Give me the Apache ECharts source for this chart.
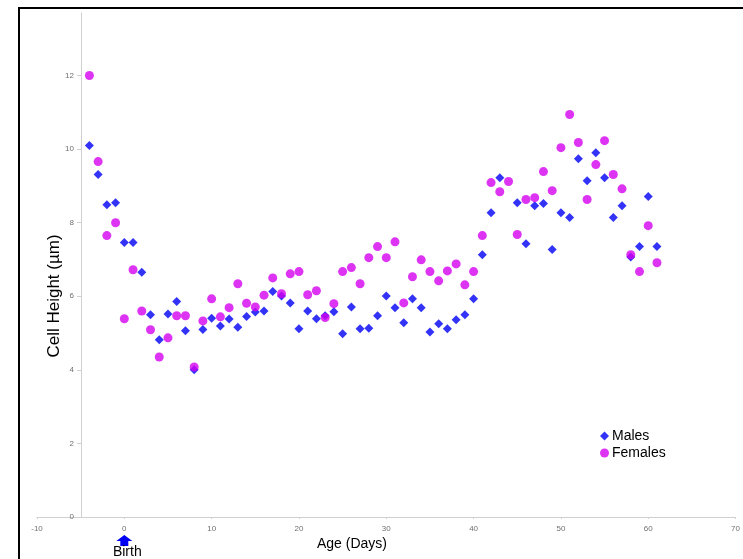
<!DOCTYPE html>
<html>
<head>
<meta charset="utf-8">
<script src="https://cdn.jsdelivr.net/npm/echarts@6/dist/echarts.min.js"></script>
<style>
html,body{margin:0;padding:0;background:#fff;}
#c{width:743px;height:559px;}
</style>
</head>
<body>
<div id="c"></div>
<script>
// Data
const maleDays   = [-4,-3,-2,-1,0,1,2,3,4,5,6,7,8,9,10,11,12,13,14,15,16,17,18,19,20,21,22,23,24,25,26,27,28,29,30,31,32,33,34,35,36,37,38,39,40,41,42,43,45,46,47,48,49,50,51,52,53,54,55,56,57,58,59,60,61];
const maleValues = [10.1,9.31,8.49,8.54,7.46,7.46,6.65,5.5,4.82,5.52,5.86,5.06,4.0,5.1,5.4,5.19,5.38,5.16,5.45,5.57,5.6,6.13,6.01,5.82,5.12,5.6,5.39,5.47,5.58,4.98,5.71,5.12,5.13,5.47,6.01,5.69,5.28,5.93,5.69,5.03,5.25,5.12,5.36,5.5,5.93,7.13,8.27,9.22,8.54,7.43,8.46,8.52,7.27,8.27,8.14,9.74,9.14,9.9,9.22,8.14,8.46,7.07,7.35,8.71,7.35];
const femaleDays   = [-4,-3,-2,-1,0,1,2,3,4,5,6,7,8,9,10,11,12,13,14,15,16,17,18,19,20,21,22,23,24,25,26,27,28,29,30,31,32,33,34,35,36,37,38,39,40,41,42,43,44,45,46,47,48,49,50,51,52,53,54,55,56,57,58,59,60,61];
const femaleValues = [12.0,9.66,7.65,8.0,5.39,6.72,5.6,5.09,4.35,4.87,5.47,5.47,4.08,5.33,5.93,5.44,5.69,6.34,5.81,5.71,6.03,6.5,6.07,6.61,6.67,6.04,6.15,5.42,5.8,6.67,6.78,6.34,7.05,7.35,7.05,7.48,5.82,6.53,6.99,6.67,6.42,6.69,6.88,6.31,6.67,7.65,9.09,8.84,9.12,7.68,8.63,8.68,9.39,8.87,10.04,10.94,10.18,8.63,9.58,10.23,9.31,8.92,7.13,6.67,7.92,6.91];
const yTickValues = [0,2,4,6,8,10,12];
const seriesNames = ['Males','Females'];
const xTitle = 'Age (Days)';
const yTitle = 'Cell Height (µm)';
const birthLabel = 'Birth';

const zip = (a,b) => a.map((v,i) => [v, b[i]]);
const FONT = "'Liberation Sans', Arial, sans-serif";

const chart = echarts.init(document.getElementById('c'), null, {renderer:'canvas'});
const option = {
  animation: false,
  backgroundColor: '#fff',
  grid: {left: 37, right: 3, top: 13, bottom: 42, containLabel: false},
  legend: {
    orient: 'vertical', left: 595, top: 424, itemGap: 3,
    itemWidth: 9, itemHeight: 9,
    textStyle: {fontSize: 14, color: '#000', fontFamily: FONT, padding: [0,0,0,-2]},
    data: [{name: seriesNames[0], icon: 'diamond'}, {name: seriesNames[1], icon: 'circle'}]
  },
  xAxis: {
    type: 'value', min: -10, max: 70, interval: 10,
    axisLine: {show: true, onZero: false, lineStyle: {color: '#d0d0d0', width: 1}},
    axisTick: {show: true, length: 2, lineStyle: {color: '#d0d0d0'}},
    axisLabel: {fontSize: 8, color: '#707070', fontFamily: FONT, margin: 8},
    splitLine: {show: false}
  },
  yAxis: {
    type: 'value', min: 0, max: 13.7, interval: 2, offset: -44,
    axisLine: {show: true, onZero: false, lineStyle: {color: '#d0d0d0', width: 1}},
    axisTick: {show: true, length: 4, customValues: yTickValues, lineStyle: {color: '#d0d0d0'}},
    axisLabel: {fontSize: 8, color: '#707070', fontFamily: FONT, margin: 7, customValues: yTickValues},
    splitLine: {show: false}
  },
  series: [
    {name: seriesNames[0], type: 'scatter', symbol: 'diamond', symbolSize: 9,
     itemStyle: {color: '#0000f5'}, data: zip(maleDays, maleValues)},
    {name: seriesNames[1], type: 'scatter', symbol: 'circle', symbolSize: 9,
     itemStyle: {color: '#d400f0'}, data: zip(femaleDays, femaleValues)}
  ]
};
chart.setOption(option);

// annotations positioned through the axes
const p0 = chart.convertToPixel({xAxisIndex: 0, yAxisIndex: 0}, [0, 0]);
const bx = p0[0];
chart.setOption({
  graphic: [
    {type: 'rect', shape: {x: 19, y: 8, width: 900, height: 700},
     style: {fill: 'none', stroke: '#000', lineWidth: 2}, silent: true},
    {type: 'text', x: 54, y: 296, rotation: Math.PI / 2,
     style: {text: yTitle, fontSize: 17, fontFamily: FONT, fill: '#000', align: 'center', verticalAlign: 'middle'}},
    {type: 'text', x: 352, y: 544,
     style: {text: xTitle, fontSize: 14, fontFamily: FONT, fill: '#000', align: 'center', verticalAlign: 'middle'}},
    {type: 'polygon', shape: {points: [[bx, 535], [bx + 8, 541], [bx + 4, 541], [bx + 4, 546], [bx - 4, 546], [bx - 4, 541], [bx - 8, 541]]},
     style: {fill: '#0000f5'}},
    {type: 'text', x: bx + 3, y: 552,
     style: {text: birthLabel, fontSize: 14, fontFamily: FONT, fill: '#000', align: 'center', verticalAlign: 'middle'}}
  ]
});
</script>
</body>
</html>
